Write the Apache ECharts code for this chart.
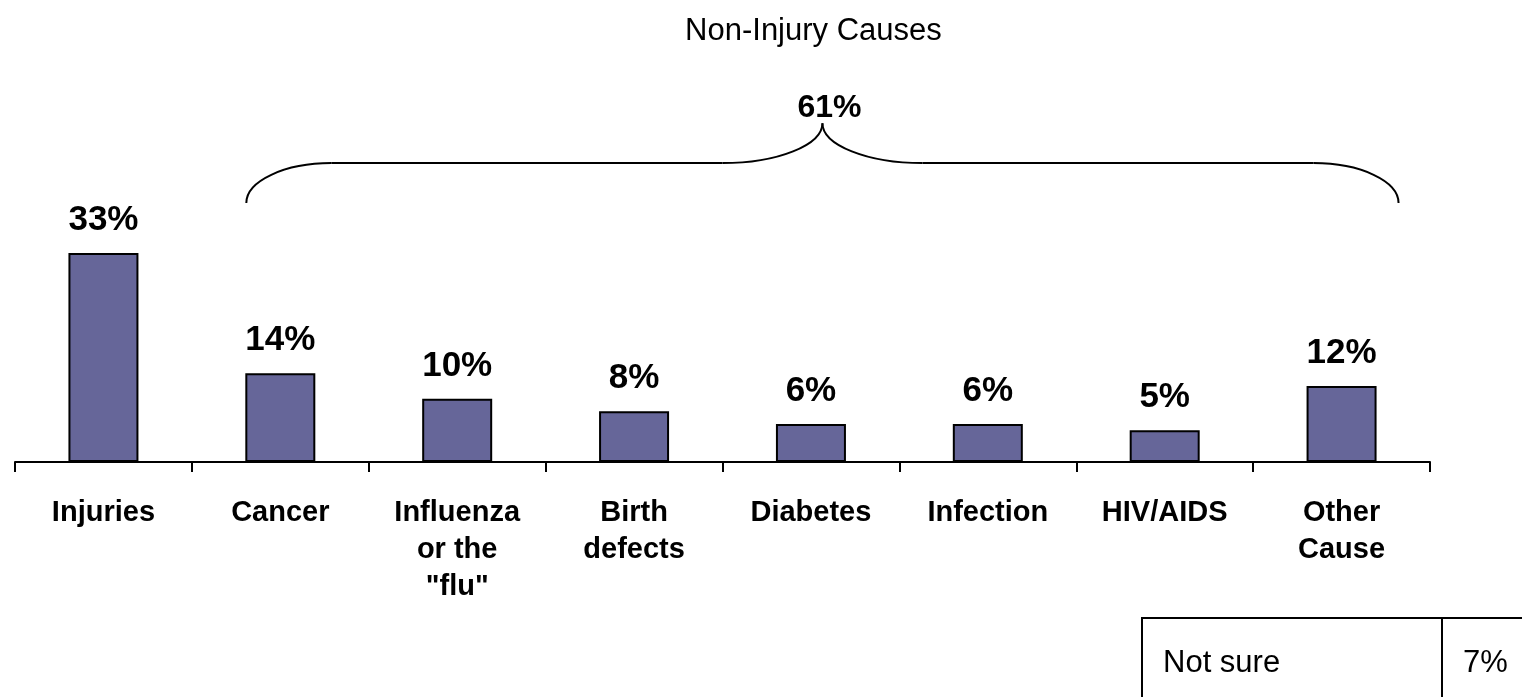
<!DOCTYPE html>
<html>
<head>
<meta charset="utf-8">
<script src="https://cdn.jsdelivr.net/npm/echarts@6/dist/echarts.min.js"></script>
<style>
  html, body { margin: 0; padding: 0; background: #fff; }
  #main { width: 1522px; height: 697px; }
</style>
</head>
<body>
<div id="main"></div>
<script>
var categories = ['Injuries', 'Cancer', 'Influenza\nor the\n"flu"', 'Birth\ndefects', 'Diabetes', 'Infection', 'HIV/AIDS', 'Other\nCause'];
var values = [33, 14, 10, 8, 6, 6, 5, 12];
var groupLabel = '61%';
var titleText = 'Non-Injury Causes';
var notSureLabel = 'Not sure';
var notSureValue = '7%';

(function () {
    var myChart = echarts.init(document.getElementById('main'));
    var font = 'Liberation Sans, Arial, sans-serif';
    var option = {
        animation: false,
        grid: { left: 15, right: 92, top: 82, bottom: 235 },
        xAxis: {
            type: 'category',
            data: categories,
            axisLine: { lineStyle: { color: '#000', width: 2 } },
            axisTick: { show: true, length: 10, lineStyle: { color: '#000', width: 2 } },
            axisLabel: {
                margin: 32,
                color: '#000',
                fontFamily: font,
                fontWeight: 'bold',
                fontSize: 29,
                lineHeight: 37,
                interval: 0
            }
        },
        yAxis: {
            type: 'value',
            min: 0,
            max: 60,
            show: false,
            splitLine: { show: false }
        },
        series: [{
            type: 'bar',
            data: values,
            barWidth: 70,
            itemStyle: { color: '#666699', borderColor: '#000', borderWidth: 2 },
            label: {
                show: true,
                position: 'top',
                distance: 15,
                formatter: '{c}%',
                color: '#000',
                fontFamily: font,
                fontWeight: 'bold',
                fontSize: 35
            }
        }]
    };
    myChart.setOption(option);

    // brace over the non-injury causes
    var left = myChart.convertToPixel({ xAxisIndex: 0 }, 1) - 34;
    var right = myChart.convertToPixel({ xAxisIndex: 0 }, 7) + 57;
    var mid = (left + right) / 2;
    var yEnd = myChart.convertToPixel({ yAxisIndex: 0 }, 40.9);
    var yLine = myChart.convertToPixel({ yAxisIndex: 0 }, 47.2);
    var yTip = myChart.convertToPixel({ yAxisIndex: 0 }, 53.5);
    var rxEnd = 85, rxMid = 100;
    var k = 0.55;
    var braceStyle = { fill: null, stroke: '#000', lineWidth: 2 };

    function curve(x1, y1, cx1, cy1, cx2, cy2, x2, y2) {
        return {
            type: 'bezierCurve',
            shape: { x1: x1, y1: y1, cpx1: cx1, cpy1: cy1, cpx2: cx2, cpy2: cy2, x2: x2, y2: y2 },
            style: braceStyle
        };
    }
    var hEnd = yEnd - yLine, hTip = yLine - yTip;
    var brace = [
        curve(left, yEnd, left, yEnd - k * hEnd, left + rxEnd - k * rxEnd, yLine, left + rxEnd, yLine),
        { type: 'line', shape: { x1: left + rxEnd, y1: yLine, x2: mid - rxMid, y2: yLine }, style: braceStyle },
        curve(mid - rxMid, yLine, mid - rxMid + k * rxMid, yLine, mid, yTip + k * hTip, mid, yTip),
        curve(mid, yTip, mid, yTip + k * hTip, mid + rxMid - k * rxMid, yLine, mid + rxMid, yLine),
        { type: 'line', shape: { x1: mid + rxMid, y1: yLine, x2: right - rxEnd, y2: yLine }, style: braceStyle },
        curve(right - rxEnd, yLine, right - rxEnd + k * rxEnd, yLine, right, yEnd - k * hEnd, right, yEnd)
    ];

    var texts = [
        {
            type: 'text',
            x: mid - 9, y: 31,
            style: { text: titleText, font: '31px ' + font, fill: '#000', align: 'center', verticalAlign: 'middle' }
        },
        {
            type: 'text',
            x: mid + 7, y: yTip - 15,
            style: { text: groupLabel, font: 'bold 32px ' + font, fill: '#000', align: 'center', verticalAlign: 'middle' }
        },
        {
            type: 'rect',
            shape: { x: 1142, y: 618, width: 400, height: 100 },
            style: { fill: '#fff', stroke: '#000', lineWidth: 2 }
        },
        {
            type: 'line',
            shape: { x1: 1442, y1: 618, x2: 1442, y2: 697 },
            style: { stroke: '#000', lineWidth: 2 }
        },
        {
            type: 'text',
            x: 1163, y: 663,
            style: { text: notSureLabel, font: '31px ' + font, fill: '#000', verticalAlign: 'middle' }
        },
        {
            type: 'text',
            x: 1463, y: 663,
            style: { text: notSureValue, font: '31px ' + font, fill: '#000', verticalAlign: 'middle' }
        }
    ];

    myChart.setOption({ graphic: brace.concat(texts) });
})();
</script>
</body>
</html>
